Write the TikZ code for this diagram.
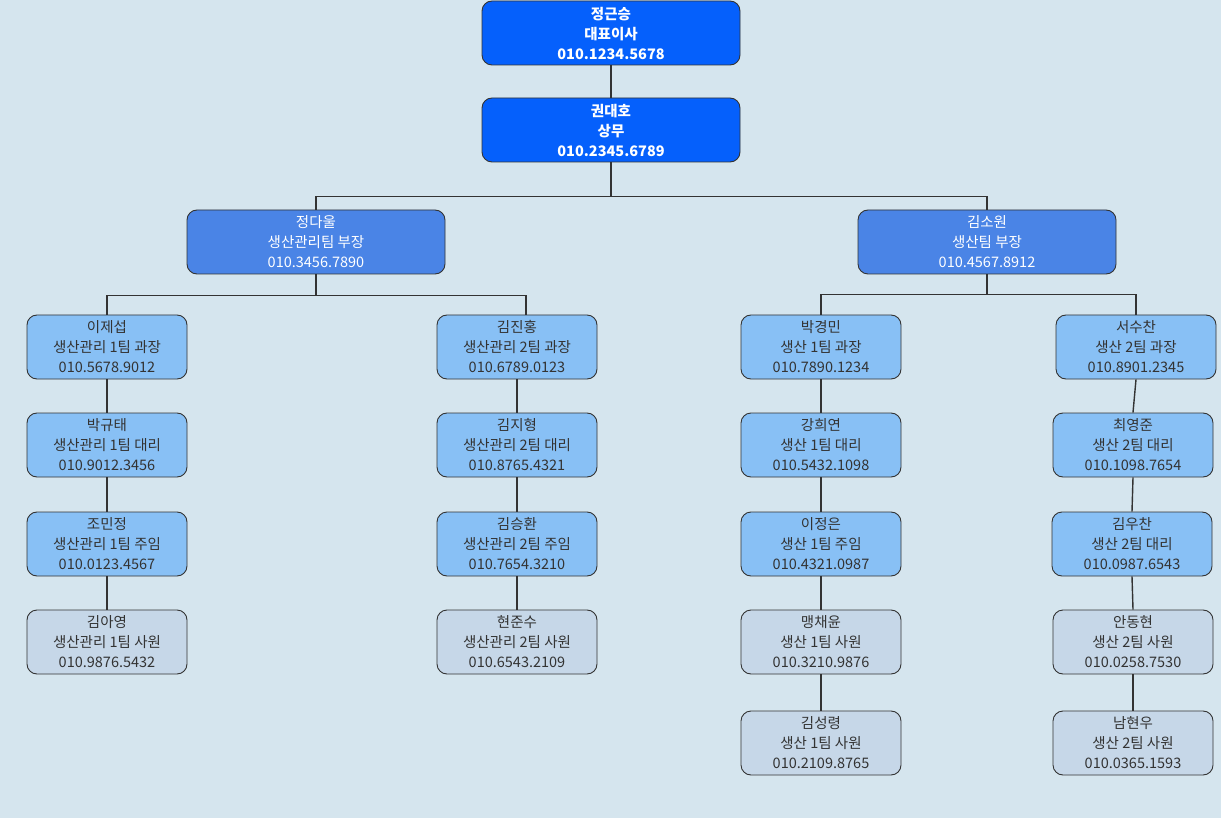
\documentclass[tikz,border=0pt]{standalone}
\usepackage{fontspec}
\setmainfont{Noto Sans CJK KR}
\definecolor{bgblue}{HTML}{D5E5EE}
\definecolor{topblue}{HTML}{0560FC}
\definecolor{midblue}{HTML}{4A84E6}
\definecolor{lightblue}{HTML}{88C0F5}
\definecolor{paleblue}{HTML}{C6D7E8}
\definecolor{ink}{HTML}{333333}
\begin{document}
\begin{tikzpicture}[x=1pt,y=-1pt,
    card/.style={draw=ink, line width=0.9pt, rounded corners=10pt, align=center, inner sep=0pt,
        minimum width=160pt, minimum height=64pt,
        font=\fontsize{14.5}{20}\selectfont, text=ink},
    boss/.style={card, minimum width=258pt, fill=topblue, text=white, font=\fontsize{14.5}{20}\selectfont\bfseries},
    head/.style={card, minimum width=258pt, fill=midblue, text=white},
    lead/.style={card, fill=lightblue},
    staff/.style={card, fill=paleblue},
    link/.style={draw=ink, line width=1.4pt}]
    \fill[bgblue] (0,0) rectangle (1221,818);
    % top
    \node[boss] (ceo) at (611,33) {정근승\\대표이사\\010.1234.5678};
    \node[boss] (exec) at (611,130) {권대호\\상무\\010.2345.6789};
    \node[head] (mgrA) at (316,242) {정다울\\생산관리팀 부장\\010.3456.7890};
    \node[head] (mgrB) at (987,242) {김소원\\생산팀 부장\\010.4567.8912};
    % 생산관리 1팀
    \node[lead] (a1) at (107,347) {이제섭\\생산관리 1팀 과장\\010.5678.9012};
    \node[lead] (a2) at (107,445) {박규태\\생산관리 1팀 대리\\010.9012.3456};
    \node[lead] (a3) at (107,544) {조민정\\생산관리 1팀 주임\\010.0123.4567};
    \node[staff] (a4) at (107,642) {김아영\\생산관리 1팀 사원\\010.9876.5432};
    % 생산관리 2팀
    \node[lead] (b1) at (517,347) {김진홍\\생산관리 2팀 과장\\010.6789.0123};
    \node[lead] (b2) at (517,445) {김지형\\생산관리 2팀 대리\\010.8765.4321};
    \node[lead] (b3) at (517,544) {김승환\\생산관리 2팀 주임\\010.7654.3210};
    \node[staff] (b4) at (517,642) {현준수\\생산관리 2팀 사원\\010.6543.2109};
    % 생산 1팀
    \node[lead] (c1) at (821,347) {박경민\\생산 1팀 과장\\010.7890.1234};
    \node[lead] (c2) at (821,445) {강희연\\생산 1팀 대리\\010.5432.1098};
    \node[lead] (c3) at (821,544) {이정은\\생산 1팀 주임\\010.4321.0987};
    \node[staff] (c4) at (821,642) {맹채윤\\생산 1팀 사원\\010.3210.9876};
    \node[staff] (c5) at (821,743) {김성령\\생산 1팀 사원\\010.2109.8765};
    % 생산 2팀
    \node[lead] (d1) at (1136,347) {서수찬\\생산 2팀 과장\\010.8901.2345};
    \node[lead] (d2) at (1133,445) {최영준\\생산 2팀 대리\\010.1098.7654};
    \node[lead] (d3) at (1132,544) {김우찬\\생산 2팀 대리\\010.0987.6543};
    \node[staff] (d4) at (1133,642) {안동현\\생산 2팀 사원\\010.0258.7530};
    \node[staff] (d5) at (1133,743) {남현우\\생산 2팀 사원\\010.0365.1593};
    % connectors
    \draw[link] (ceo) -- (exec);
    \draw[link] (exec.south) -- ++(0,34) -| (mgrA.north);
    \draw[link] (exec.south) -- ++(0,34) -| (mgrB.north);
    \draw[link] (mgrA.south) -- ++(0,21) -| (a1.north);
    \draw[link] (mgrA.south) -- ++(0,21) -| ([xshift=9pt]b1.north);
    \draw[link] (mgrB.south) -- ++(0,20) -| (c1.north);
    \draw[link] (mgrB.south) -- ++(0,20) -| (d1.north);
    \foreach \col/\last in {a/4,b/4,c/5,d/5}{
        \foreach \i [evaluate=\i as \j using int(\i+1)] in {1,...,\numexpr\last-1\relax}{
            \draw[link] (\col\i.south) -- (\col\j.north);
        }
    }
\end{tikzpicture}
\end{document}
